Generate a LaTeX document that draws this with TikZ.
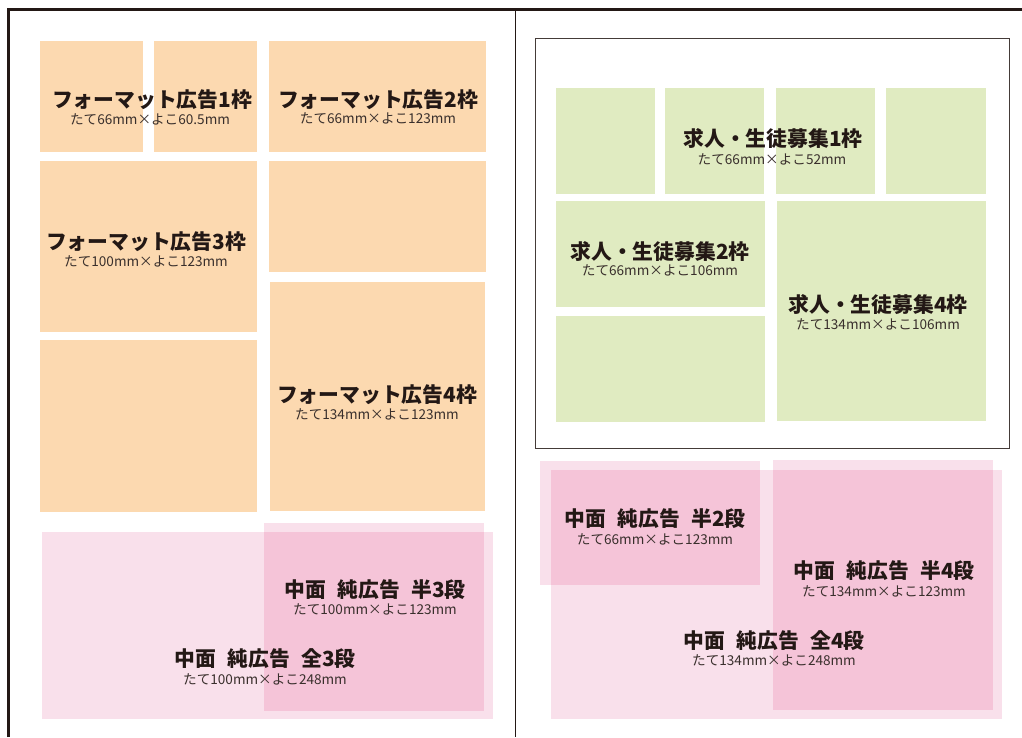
\documentclass[tikz,border=0pt]{standalone}
\usepackage{fontspec}
\newfontfamily\jp{Noto Sans CJK JP}
\definecolor{ink}{HTML}{231815}
\definecolor{orng}{HTML}{FCD9B0}
\definecolor{grn}{HTML}{E0EBC1}
\definecolor{pkl}{HTML}{F9E0EB}
\definecolor{pkd}{HTML}{F5C4D8}
\tikzset{
  x=1pt,y=-1pt,
  ttl/.style={inner sep=0pt,text=ink,font=\jp\bfseries\fontsize{20.8}{20.8}\selectfont},
  sub/.style={inner sep=0pt,text=ink!90,font=\jp\fontsize{13.6}{13.6}\selectfont},
}
\newcommand{\jsp}{\hspace{0.55em}}
\begin{document}
\begin{tikzpicture}
\useasboundingbox[fill=white] (0,0) rectangle (1022,737);
% frame
\draw[ink,line width=3pt] (8.5,737) -- (8.5,9.5) -- (1022,9.5);
\draw[ink,line width=1pt] (515,9.5) -- (515,737);
% left orange boxes
\fill[orng] (40,41) rectangle (143,152);
\fill[orng] (154,41) rectangle (257,152);
\fill[orng] (269,41) rectangle (486,152);
\fill[orng] (40,161) rectangle (257,332);
\fill[orng] (269,161) rectangle (486,272);
\fill[orng] (40,340) rectangle (257,512);
\fill[orng] (270,282) rectangle (485,511);
% left pink
\fill[pkl] (42,532) rectangle (493,719);
\fill[pkl] (264,523) rectangle (484,532);
\fill[pkd] (264,532) rectangle (484,711);
% right frame box
\draw[ink!85,line width=1pt] (535,38) rectangle (1009,448);
% green boxes
\fill[grn] (556,88) rectangle (655,194);
\fill[grn] (665,88) rectangle (764,194);
\fill[grn] (776,88) rectangle (875,194);
\fill[grn] (886,88) rectangle (986,194);
\fill[grn] (556,201) rectangle (765,307);
\fill[grn] (556,316) rectangle (765,422);
\fill[grn] (777,201) rectangle (986,421);
% right pink
\fill[pkl] (551,470) rectangle (1002,719);
\fill[pkl] (540,461) rectangle (760,585);
\fill[pkl] (773,460) rectangle (993,710);
\fill[pkd] (551,470) rectangle (760,585);
\fill[pkd] (773,470) rectangle (993,710);
% labels
\node[ttl] (t1) at (152,100) {フォーマット広告1枠};
\node[sub] (s1) at (150,119) {たて66mm×よこ60.5mm};
\node[ttl] (t2) at (378,100) {フォーマット広告2枠};
\node[sub] (s2) at (378,118) {たて66mm×よこ123mm};
\node[ttl] (t3) at (146,242) {フォーマット広告3枠};
\node[sub] (s3) at (146,261) {たて100mm×よこ123mm};
\node[ttl] (t4) at (377,395) {フォーマット広告4枠};
\node[sub] (s4) at (377,414) {たて134mm×よこ123mm};
\node[ttl] (t5) at (375,590) {中面\jsp 純広告\jsp 半3段};
\node[sub] (s5) at (375,609) {たて100mm×よこ123mm};
\node[ttl] (t6) at (265,659) {中面\jsp 純広告\jsp 全3段};
\node[sub] (s6) at (265,679) {たて100mm×よこ248mm};
\node[ttl] (t7) at (773,139) {求人・生徒募集1枠};
\node[sub] (s7) at (772,159) {たて66mm×よこ52mm};
\node[ttl] (t8) at (660,252) {求人・生徒募集2枠};
\node[sub] (s8) at (660,270) {たて66mm×よこ106mm};
\node[ttl] (t9) at (878,305) {求人・生徒募集4枠};
\node[sub] (s9) at (878,324) {たて134mm×よこ106mm};
\node[ttl] (t10) at (655,519) {中面\jsp 純広告\jsp 半2段};
\node[sub] (s10) at (655,539) {たて66mm×よこ123mm};
\node[ttl] (t11) at (884,571) {中面\jsp 純広告\jsp 半4段};
\node[sub] (s11) at (884,591) {たて134mm×よこ123mm};
\node[ttl] (t12) at (774,641) {中面\jsp 純広告\jsp 全4段};
\node[sub] (s12) at (774,660) {たて134mm×よこ248mm};
\end{tikzpicture}
\end{document}
